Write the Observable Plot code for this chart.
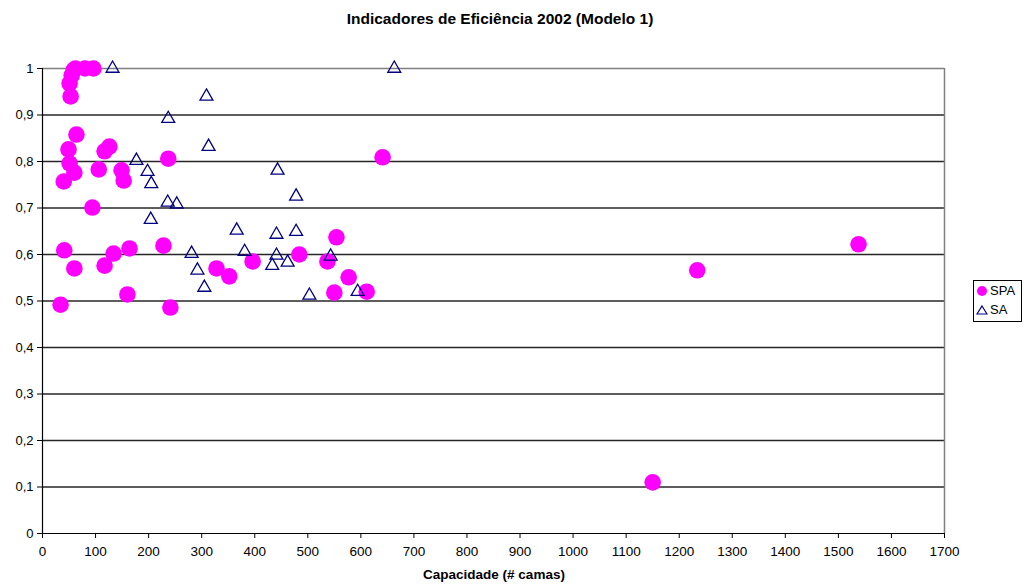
<!DOCTYPE html>
<html>
<head>
<meta charset="utf-8">
<script src="https://cdn.jsdelivr.net/npm/d3@7"></script>
<script src="https://cdn.jsdelivr.net/npm/@observablehq/plot@0.6"></script>
<style>
  html, body { margin: 0; padding: 0; background: #fff; }
  #wrap { position: relative; width: 1024px; height: 585px; font-family: "Liberation Sans", Arial, sans-serif; }
  #title { position: absolute; top: 10px; left: 0; width: 1000px; text-align: center; font-weight: bold; font-size: 15.5px; color: #000; }
  #xlabel { position: absolute; top: 567px; left: 0; width: 988px; text-align: center; font-weight: bold; font-size: 13.5px; color: #000; }
  #legend { position: absolute; left: 973px; top: 280px; width: 49px; height: 42px; border: 1px solid #000; box-sizing: border-box; background: #fff; font-size: 13px; }
  #legend div { height: 19px; line-height: 19px; display: flex; align-items: center; padding-left: 2px; }
  #legend svg { margin-right: 2px; }
</style>
</head>
<body>
<div id="wrap">
  <div id="title">Indicadores de Eficiência 2002 (Modelo 1)</div>
  <div id="chart"></div>
  <div id="xlabel">Capacidade (# camas)</div>
  <div id="legend">
    <div><svg width="12" height="12"><circle cx="6" cy="6" r="5" fill="#FF00FF"></circle></svg>SPA</div>
    <div><svg width="12" height="12"><path d="M6 2 L11 10 L1 10 Z" fill="none" stroke="#000080" stroke-width="1.2"></path></svg>SA</div>
  </div>
</div>
<script>
// SPA series (capacidade, eficiência)
const spaX = [51, 53, 55, 59, 62, 80, 96, 34, 41, 60, 40, 60, 51, 49, 64, 94, 106, 117, 117, 126, 134, 149, 153, 160, 164, 228, 237, 241, 328, 352, 396, 484, 537, 554, 550, 577, 611, 641, 1150, 1234, 1538];
const spaY = [0.968, 0.940, 0.985, 0.997, 1.0, 1.0, 1.0, 0.492, 0.609, 0.570, 0.757, 0.776, 0.796, 0.826, 0.858, 0.701, 0.783, 0.576, 0.822, 0.832, 0.602, 0.781, 0.759, 0.514, 0.613, 0.619, 0.806, 0.486, 0.570, 0.553, 0.585, 0.600, 0.585, 0.637, 0.518, 0.551, 0.520, 0.809, 0.110, 0.566, 0.622];
// SA series
const saX = [132, 663, 309, 237, 313, 177, 198, 205, 236, 253, 204, 443, 478, 366, 478, 441, 381, 281, 441, 543, 292, 462, 433, 305, 503, 594];
const saY = [1.0, 1.0, 0.940, 0.892, 0.832, 0.802, 0.778, 0.752, 0.712, 0.708, 0.675, 0.781, 0.725, 0.652, 0.649, 0.643, 0.606, 0.602, 0.598, 0.596, 0.566, 0.583, 0.576, 0.529, 0.512, 0.520];
const xTicks = d3.range(0, 1701, 100);
const yTicks = [0, 0.1, 0.2, 0.3, 0.4, 0.5, 0.6, 0.7, 0.8, 0.9, 1];

const spa = spaX.map((x, i) => ({x, y: spaY[i]}));
const sa = saX.map((x, i) => ({x, y: saY[i]}));
const fmt = d => String(d).replace(".", ",");

const chart = Plot.plot({
  width: 1024,
  height: 585,
  marginLeft: 42,
  marginRight: 80,
  marginTop: 68,
  marginBottom: 52,
  style: {fontFamily: "Liberation Sans, Arial, sans-serif", fontSize: "13px", color: "#000", background: "transparent"},
  x: {domain: [0, 1700]},
  y: {domain: [0, 1]},
  marks: [
    Plot.ruleY(yTicks.filter(d => d > 0 && d < 1), {stroke: "#000", strokeWidth: 1.3, strokeOpacity: 0.85}),
    Plot.ruleY([1], {stroke: "#808080", strokeWidth: 1.5}),
    Plot.ruleX([1700], {stroke: "#808080", strokeWidth: 1.5}),
    Plot.axisX({ticks: xTicks, tickSize: 5, tickPadding: 8, tickFormat: d => String(d), label: null, stroke: "#000", fontSize: 13.5}),
    Plot.axisY({ticks: yTicks, tickSize: 5, tickPadding: 4, tickFormat: fmt, label: null, stroke: "#000", fontSize: 13}),
    Plot.ruleX([0], {stroke: "#000", strokeWidth: 1.2}),
    Plot.ruleY([0], {stroke: "#000", strokeWidth: 1.2}),
    Plot.dot(spa, {x: "x", y: "y", r: 8.3, fill: "#FF00FF", stroke: "none"}),
    Plot.dot(sa, {x: "x", y: "y", symbol: "triangle", r: 4.8, fill: "none", stroke: "#000080", strokeWidth: 1.3})
  ]
});
document.getElementById("chart").appendChild(chart);
</script>
</body>
</html>
